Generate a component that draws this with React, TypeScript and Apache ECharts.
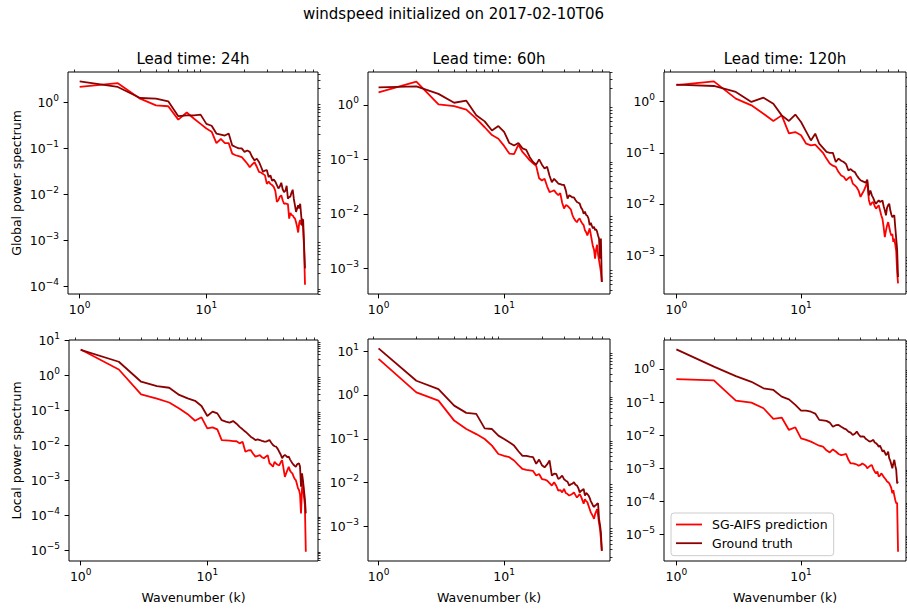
import React, { useEffect, useRef } from "react";
import * as echarts from "echarts";

// ---- texts ----
const SUPTITLE = "windspeed initialized on 2017-02-10T06";
const LEAD_TITLES = ["Lead time: 24h", "Lead time: 60h", "Lead time: 120h"];
const ROW_TITLES = ["Global power spectrum", "Local power spectrum"];
const X_TITLE = "Wavenumber (k)";
const SERIES_NAMES = ["SG-AIFS prediction", "Ground truth"];

// ---- tick values ----
const X_TICKS = [1, 10];
const Y_TICKS_G24 = [1e-4, 1e-3, 1e-2, 1e-1, 1];
const Y_TICKS_G60 = [1e-3, 1e-2, 1e-1, 1];
const Y_TICKS_G120 = [1e-3, 1e-2, 1e-1, 1];
const Y_TICKS_L24 = [1e-5, 1e-4, 1e-3, 1e-2, 1e-1, 1, 10];
const Y_TICKS_L60 = [1e-3, 1e-2, 1e-1, 1, 10];
const Y_TICKS_L120 = [1e-5, 1e-4, 1e-3, 1e-2, 1e-1, 1];

// ---- spectra, wavenumber k = 1 .. 60 ----
const global24Pred = [
  2.15, 2.6, 1.2, 0.86, 0.82, 0.42, 0.6, 0.44, 0.34, 0.27,
  0.23, 0.13, 0.16, 0.13, 0.13, 0.077, 0.071, 0.068, 0.065, 0.055,
  0.047, 0.039, 0.045, 0.05, 0.04, 0.031, 0.03, 0.028, 0.026, 0.017,
  0.019, 0.017, 0.016, 0.0146, 0.012, 0.0069, 0.0075, 0.009, 0.0096, 0.0075,
  0.0063, 0.0064, 0.0063, 0.0062, 0.003, 0.004, 0.0036, 0.0035, 0.0032, 0.003,
  0.0025, 0.002, 0.0015, 0.0024, 0.0028, 0.0022, 0.003, 0.0018, 0.0007, 0.00011,
];
const global24Truth = [
  2.85, 2.15, 1.24, 1.2, 1.05, 0.5, 0.52, 0.52, 0.54, 0.34,
  0.31, 0.21, 0.2, 0.19, 0.21, 0.116, 0.107, 0.1, 0.1, 0.084,
  0.09, 0.084, 0.065, 0.055, 0.06, 0.051, 0.04, 0.031, 0.033, 0.034,
  0.024, 0.026, 0.02, 0.021, 0.019, 0.016, 0.0135, 0.015, 0.018, 0.013,
  0.0113, 0.012, 0.0155, 0.0081, 0.0088, 0.009, 0.011, 0.0127, 0.008, 0.0058,
  0.0042, 0.005, 0.0058, 0.005, 0.0063, 0.0035, 0.0021, 0.0029, 0.0008, 0.00025,
];
const global60Pred = [
  1.7, 2.7, 1.03, 0.95, 0.82, 0.56, 0.39, 0.28, 0.24, 0.177,
  0.128, 0.125, 0.187, 0.137, 0.115, 0.096, 0.085, 0.076, 0.045, 0.041,
  0.044, 0.032, 0.025, 0.026, 0.027, 0.024, 0.022, 0.024, 0.016, 0.0125,
  0.0144, 0.014, 0.013, 0.012, 0.0095, 0.0082, 0.0075, 0.007, 0.0078, 0.0082,
  0.0072, 0.0066, 0.0062, 0.005, 0.0046, 0.004, 0.0046, 0.0054, 0.0042, 0.0032,
  0.0025, 0.0022, 0.0015, 0.0022, 0.0027, 0.0018, 0.0014, 0.0011, 0.00085, 0.00056,
];
const global60Truth = [
  2.1, 2.2, 1.6, 1.1, 1.2, 0.65, 0.5, 0.34, 0.41, 0.32,
  0.2, 0.18, 0.2, 0.16, 0.15, 0.11, 0.09, 0.08, 0.1, 0.08,
  0.068, 0.073, 0.05, 0.038, 0.044, 0.04, 0.036, 0.035, 0.034, 0.034,
  0.027, 0.019, 0.022, 0.021, 0.02, 0.02, 0.018, 0.0165, 0.016, 0.0154,
  0.013, 0.012, 0.01, 0.011, 0.0095, 0.0092, 0.0082, 0.0062, 0.0068, 0.006,
  0.0054, 0.0058, 0.005, 0.0052, 0.0047, 0.004, 0.0035, 0.0015, 0.0035, 0.00056,
];
const global120Pred = [
  2.1, 2.5, 1.15, 0.85, 0.58, 0.42, 0.54, 0.24, 0.255, 0.22,
  0.151, 0.14, 0.144, 0.12, 0.1, 0.077, 0.062, 0.056, 0.053, 0.042,
  0.036, 0.034, 0.029, 0.032, 0.034, 0.025, 0.023, 0.021, 0.018, 0.0137,
  0.016, 0.0184, 0.022, 0.027, 0.012, 0.0094, 0.0105, 0.0109, 0.009, 0.0081,
  0.0088, 0.0094, 0.0075, 0.006, 0.0051, 0.0035, 0.00225, 0.003, 0.0038, 0.0044,
  0.0035, 0.0028, 0.0024, 0.0026, 0.0018, 0.0021, 0.0016, 0.0012, 0.00047, 0.00028,
];
const global120Truth = [
  2.15, 2.03, 1.55, 0.99, 1.2, 0.91, 0.54, 0.42, 0.56, 0.4,
  0.26, 0.175, 0.237, 0.151, 0.125, 0.104, 0.1, 0.1, 0.066, 0.077,
  0.07, 0.066, 0.06, 0.045, 0.048, 0.044, 0.042, 0.036, 0.032, 0.029,
  0.028, 0.027, 0.026, 0.03, 0.0147, 0.0184, 0.0147, 0.013, 0.011, 0.0101,
  0.011, 0.0117, 0.011, 0.0112, 0.0117, 0.009, 0.0075, 0.006, 0.0085, 0.0095,
  0.0101, 0.0075, 0.0062, 0.0055, 0.0058, 0.006, 0.0035, 0.0021, 0.0013, 0.00037,
];
const local24Pred = [
  5.6, 1.5, 0.29, 0.22, 0.17, 0.115, 0.079, 0.051, 0.064, 0.031,
  0.033, 0.029, 0.0143, 0.014, 0.0137, 0.0134, 0.0132, 0.0115, 0.0128, 0.0066,
  0.0072, 0.0074, 0.0058, 0.0048, 0.005, 0.0053, 0.0046, 0.0043, 0.0048, 0.0053,
  0.0031, 0.0028, 0.00246, 0.0034, 0.003, 0.0028, 0.0027, 0.0033, 0.0038, 0.0022,
  0.00126, 0.0016, 0.002, 0.00246, 0.0019, 0.0017, 0.00158, 0.0013, 0.0011, 0.00102,
  0.0008, 0.0006, 0.00053, 0.0004, 0.000113, 0.0006, 0.00082, 0.00034, 0.0002, 0.000009,
];
const local24Truth = [
  5.5, 2.5, 0.67, 0.5, 0.45, 0.28, 0.223, 0.19, 0.135, 0.07,
  0.093, 0.083, 0.053, 0.048, 0.045, 0.05, 0.042, 0.034, 0.029, 0.0248,
  0.021, 0.0178, 0.016, 0.0143, 0.015, 0.0143, 0.0135, 0.013, 0.0128, 0.0135,
  0.0143, 0.012, 0.0103, 0.0095, 0.0092, 0.008, 0.0066, 0.0055, 0.0043, 0.005,
  0.0053, 0.005, 0.0046, 0.0048, 0.004, 0.0035, 0.0031, 0.0028, 0.0026, 0.00246,
  0.0028, 0.003, 0.0031, 0.0025, 0.00066, 0.00158, 0.001, 0.00053, 0.0003, 0.000113,
];
const local60Pred = [
  6.6, 1.14, 0.74, 0.26, 0.167, 0.128, 0.099, 0.07, 0.045, 0.041,
  0.038, 0.032, 0.025, 0.0205, 0.0195, 0.019, 0.0185, 0.0145, 0.0158, 0.0121,
  0.0118, 0.0111, 0.0098, 0.0086, 0.0102, 0.0085, 0.0066, 0.0068, 0.006, 0.0072,
  0.0058, 0.0055, 0.0051, 0.0053, 0.0056, 0.006, 0.0052, 0.0046, 0.005, 0.0055,
  0.0048, 0.004, 0.0033, 0.0042, 0.0038, 0.0036, 0.003, 0.0025, 0.0021, 0.0019,
  0.0017, 0.0015, 0.0019, 0.0022, 0.0025, 0.0018, 0.0012, 0.0009, 0.00052, 0.00028,
];
const local60Truth = [
  11.5, 2.1, 1.36, 0.57, 0.39, 0.37, 0.173, 0.167, 0.118, 0.099,
  0.083, 0.07, 0.052, 0.041, 0.041, 0.039, 0.038, 0.027, 0.0335, 0.025,
  0.0224, 0.026, 0.032, 0.0145, 0.016, 0.0158, 0.0121, 0.013, 0.0145, 0.012,
  0.0111, 0.0105, 0.0086, 0.0092, 0.0095, 0.0102, 0.009, 0.0086, 0.0075, 0.006,
  0.0065, 0.0068, 0.0072, 0.0051, 0.0058, 0.0055, 0.0051, 0.0045, 0.0038, 0.0034,
  0.003, 0.0028, 0.003, 0.0031, 0.0033, 0.0034, 0.0015, 0.0011, 0.00074, 0.00028,
];
const local120Pred = [
  0.49, 0.45, 0.11, 0.096, 0.065, 0.031, 0.034, 0.0144, 0.0173, 0.008,
  0.0072, 0.0064, 0.0055, 0.0048, 0.0045, 0.0035, 0.003, 0.0037, 0.0032, 0.0027,
  0.0025, 0.0026, 0.0027, 0.0018, 0.0014, 0.0014, 0.00135, 0.0013, 0.0012, 0.00126,
  0.0014, 0.0013, 0.0012, 0.001, 0.0011, 0.0012, 0.00126, 0.00095, 0.00079, 0.0007,
  0.0008, 0.00056, 0.0006, 0.0007, 0.00063, 0.00055, 0.0005, 0.00045, 0.0004, 0.00038,
  0.00035, 0.0003, 0.00025, 0.000175, 0.00022, 0.00015, 0.00011, 0.000087, 0.00009, 0.000003,
];
const local120Truth = [
  3.9, 1.18, 0.61, 0.41, 0.26, 0.232, 0.146, 0.121, 0.082, 0.055,
  0.055, 0.051, 0.045, 0.029, 0.028, 0.027, 0.024, 0.018, 0.02, 0.0203,
  0.018, 0.0161, 0.015, 0.0128, 0.012, 0.0101, 0.011, 0.0128, 0.0105, 0.009,
  0.0092, 0.009, 0.0078, 0.0072, 0.0066, 0.0064, 0.0068, 0.0072, 0.006, 0.0057,
  0.0052, 0.0045, 0.0048, 0.004, 0.0032, 0.0035, 0.003, 0.0025, 0.0027, 0.0032,
  0.002, 0.0017, 0.0013, 0.001, 0.0014, 0.0018, 0.0012, 0.0009, 0.00035, 0.0004,
];

const PANEL_DATA = [
  { pred: global24Pred, truth: global24Truth, yTicks: Y_TICKS_G24 },
  { pred: global60Pred, truth: global60Truth, yTicks: Y_TICKS_G60 },
  { pred: global120Pred, truth: global120Truth, yTicks: Y_TICKS_G120 },
  { pred: local24Pred, truth: local24Truth, yTicks: Y_TICKS_L24 },
  { pred: local60Pred, truth: local60Truth, yTicks: Y_TICKS_L60 },
  { pred: local120Pred, truth: local120Truth, yTicks: Y_TICKS_L120 },
];

// ---- layout (pixels) and axis extents ----
const GRIDS = [
  { left: 68, top: 72, width: 250, height: 222 },
  { left: 368, top: 72, width: 242, height: 222 },
  { left: 664, top: 72, width: 242, height: 222 },
  { left: 69, top: 340, width: 249, height: 221 },
  { left: 368, top: 339, width: 242, height: 222 },
  { left: 664, top: 340, width: 242, height: 221 },
];
const X_EXTENTS = [
  [0.809, 76.0], [0.824, 69.7], [0.796, 69.5],
  [0.808, 74.9], [0.824, 69.7], [0.796, 69.5],
];
const Y_EXTENTS = [
  [6.95e-5, 4.54], [3.36e-4, 4.04], [1.73e-4, 3.81],
  [4.9e-6, 10.5], [1.64e-4, 18.8], [1.58e-6, 7.5],
];

const FONT = "DejaVu Sans";
const PRED_COLOR = "#ff0000";
const TRUTH_COLOR = "#8b0000";
const INK = "#000000";

function minorTicks(lo: number, hi: number): number[] {
  const out: number[] = [];
  const e0 = Math.floor(Math.log10(lo));
  const e1 = Math.ceil(Math.log10(hi));
  for (let e = e0; e <= e1; e++) {
    for (let m = 2; m <= 9; m++) {
      const v = m * Math.pow(10, e);
      if (v > lo && v < hi) out.push(v);
    }
  }
  return out;
}

function powLabel(v: number): string {
  const e = Math.round(Math.log10(v));
  const exp = e < 0 ? "\u2212" + -e : String(e);
  return `{b|10}{s|${exp}}`;
}

const RICH = {
  b: { fontSize: 12.5, fontFamily: FONT, color: INK, lineHeight: 18, verticalAlign: "middle" },
  s: { fontSize: 9, fontFamily: FONT, color: INK, lineHeight: 9, verticalAlign: "top" },
};

function buildOption() {
  const grid: any[] = [];
  const xAxis: any[] = [];
  const yAxis: any[] = [];
  const series: any[] = [];

  PANEL_DATA.forEach((panel, p) => {
    const g = GRIDS[p];
    grid.push({
      left: g.left,
      top: g.top,
      width: g.width,
      height: g.height,
      show: true,
      borderColor: INK,
      borderWidth: 1,
      backgroundColor: "transparent",
      containLabel: false,
    });
    const [x0, x1] = X_EXTENTS[p];
    const [y0, y1] = Y_EXTENTS[p];

    // major x axis
    xAxis.push({
      type: "log",
      logBase: 10,
      gridIndex: p,
      min: x0,
      max: x1,
      axisLine: { show: false },
      splitLine: { show: false },
      axisTick: { show: true, customValues: X_TICKS, length: 4.4, lineStyle: { color: INK, width: 1 } },
      axisLabel: { show: true, customValues: X_TICKS, margin: 6, formatter: powLabel, rich: RICH },
    });
    // minor x ticks
    xAxis.push({
      type: "log",
      logBase: 10,
      gridIndex: p,
      min: x0,
      max: x1,
      axisLine: { show: false },
      splitLine: { show: false },
      axisTick: { show: true, customValues: minorTicks(x0, x1), length: 2.5, lineStyle: { color: INK, width: 0.8 } },
      axisLabel: { show: false },
    });
    // major y axis
    yAxis.push({
      type: "log",
      logBase: 10,
      gridIndex: p,
      min: y0,
      max: y1,
      axisLine: { show: false },
      splitLine: { show: false },
      axisTick: { show: true, customValues: panel.yTicks, length: 4.4, lineStyle: { color: INK, width: 1 } },
      axisLabel: { show: true, customValues: panel.yTicks, margin: 9, formatter: powLabel, rich: RICH },
    });
    // minor y ticks
    yAxis.push({
      type: "log",
      logBase: 10,
      gridIndex: p,
      min: y0,
      max: y1,
      axisLine: { show: false },
      splitLine: { show: false },
      axisTick: { show: true, customValues: minorTicks(y0, y1), length: 2.5, lineStyle: { color: INK, width: 0.8 } },
      axisLabel: { show: false },
    });

    const lines = [
      { name: SERIES_NAMES[0], values: panel.pred, color: PRED_COLOR },
      { name: SERIES_NAMES[1], values: panel.truth, color: TRUTH_COLOR },
    ];
    lines.forEach((ln) => {
      series.push({
        type: "line",
        name: ln.name,
        xAxisIndex: p * 2,
        yAxisIndex: p * 2,
        data: ln.values.map((v, i) => [i + 1, v]),
        symbol: "none",
        showSymbol: false,
        lineStyle: { color: ln.color, width: 1.8 },
        itemStyle: { color: ln.color },
        clip: true,
      });
    });
  });

  const graphic: any[] = [];
  const textStyle = (text: string, size: number) => ({
    text,
    fontSize: size,
    fontFamily: FONT,
    fill: INK,
    align: "center",
    verticalAlign: "middle",
  });
  graphic.push({ type: "text", silent: true, x: 453.5, y: 13.8, style: textStyle(SUPTITLE, 15) });
  LEAD_TITLES.forEach((t, c) => {
    const g = GRIDS[c];
    graphic.push({ type: "text", silent: true, x: g.left + g.width / 2, y: 58.8, style: textStyle(t, 15) });
  });
  ROW_TITLES.forEach((t, r) => {
    const g = GRIDS[r * 3];
    graphic.push({
      type: "text",
      silent: true,
      x: 16.6,
      y: g.top + g.height / 2,
      rotation: Math.PI / 2,
      style: textStyle(t, 12.5),
    });
  });
  [3, 4, 5].forEach((p) => {
    const g = GRIDS[p];
    graphic.push({ type: "text", silent: true, x: g.left + g.width / 2, y: 597.5, style: textStyle(X_TITLE, 12.5) });
  });

  return {
    animation: false,
    backgroundColor: "#ffffff",
    textStyle: { fontFamily: FONT },
    grid,
    xAxis,
    yAxis,
    series,
    graphic,
    legend: {
      show: true,
      data: SERIES_NAMES.map((name) => ({ name, icon: "rect" })),
      orient: "vertical",
      left: 671,
      top: 513,
      padding: [4, 6, 5, 5],
      itemGap: 3.7,
      itemWidth: 26,
      itemHeight: 1.8,
      selectedMode: false,
      backgroundColor: "rgba(255,255,255,0.8)",
      borderColor: "#cccccc",
      borderWidth: 1,
      borderRadius: 3,
      textStyle: { fontSize: 12.5, fontFamily: FONT, color: INK, lineHeight: 15, padding: [0, 0, 0, 5] },
    },
  };
}

export default function App() {
  const ref = useRef<HTMLDivElement>(null);
  useEffect(() => {
    if (!ref.current) return;
    const chart = echarts.init(ref.current, null, { renderer: "svg" });
    chart.setOption(buildOption() as any);
    return () => chart.dispose();
  }, []);
  return (
    <div
      ref={ref}
      style={{ position: "fixed", left: 0, top: 0, width: 907, height: 610, background: "#fff" }}
    />
  );
}
